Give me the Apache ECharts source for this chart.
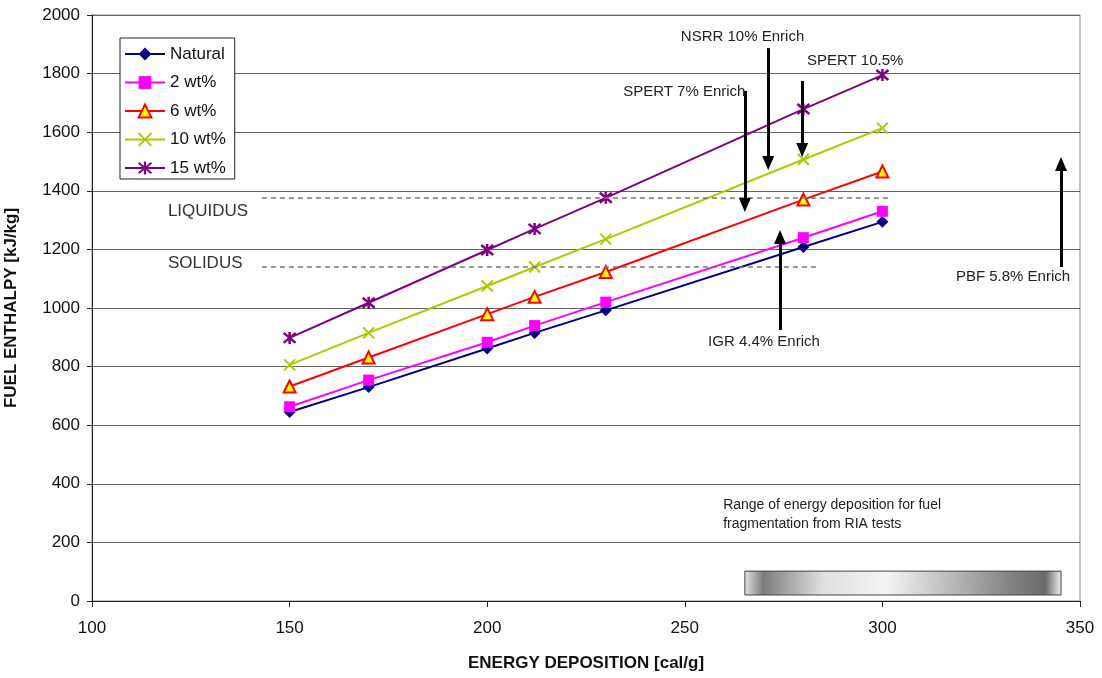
<!DOCTYPE html>
<html>
<head>
<meta charset="utf-8">
<script src="https://cdn.jsdelivr.net/npm/echarts@6/dist/echarts.min.js"></script>
<style>
html,body{margin:0;padding:0;background:#fff;}
#chart{width:1102px;height:678px;}
</style>
</head>
<body>
<div id="chart"></div>
<script>
// ---- data ----
var energy = [150, 170, 200, 212, 230, 280, 300];
var seriesNames = ['Natural', '2 wt%', '6 wt%', '10 wt%', '15 wt%'];
var natural = [645, 730, 862, 915, 992, 1208, 1294];
var wt2 = [663, 754, 883, 940, 1020, 1240, 1330];
var wt6 = [732, 831, 979, 1038, 1123, 1370, 1466];
var wt10 = [806, 915, 1075, 1140, 1235, 1507, 1614];
var wt15 = [898, 1018, 1198, 1270, 1376, 1679, 1795];

var liquidus = 1375;
var liquidusRange = [143, 302];
var solidus = 1142;
var solidusRange = [143, 284];

// arrows: [label, x, yStart, yTip]
var arrows = [
  ['NSRR 10% Enrich', 271.1, 1887, 1471],
  ['SPERT 10.5%', 279.7, 1775, 1515],
  ['SPERT 7% Enrich', 265.2, 1741, 1328],
  ['IGR 4.4% Enrich', 274.1, 925, 1266],
  ['PBF 5.8% Enrich', 345.2, 1140, 1515]
];
// annotation texts: [text, x, y]
var notes = [
  ['NSRR 10% Enrich', 249.0, 1925],
  ['SPERT 10.5%', 280.9, 1843],
  ['SPERT 7% Enrich', 234.4, 1737],
  ['IGR 4.4% Enrich', 255.9, 884],
  ['PBF 5.8% Enrich', 318.6, 1106]
];
var phaseLabels = [['LIQUIDUS', 119.2, 1331], ['SOLIDUS', 119.2, 1154]];
var rangeText = 'Range of energy deposition for fuel\nfragmentation from RIA tests';
var rangeTextPos = [259.7, 295];
var fragRange = [265.2, 345.2];
var fragBand = [20.5, 102];

var xTicks = {min: 100, max: 350, interval: 50};
var yTicks = {min: 0, max: 2000, interval: 200};

function pairs(ys) { return energy.map(function (x, i) { return [x, ys[i]]; }); }

var FONT = '"Liberation Sans", Arial, sans-serif';
var headLen = 14; // px
var yPerPx = (yTicks.max - yTicks.min) / 586;

var arrowLines = arrows.map(function (a) {
  var dir = a[3] > a[2] ? 1 : -1;
  var end = a[3] - dir * (headLen / 2) * yPerPx;
  return [{coord: [a[1], a[2]], symbol: 'none'}, {coord: [a[1], end], symbol: 'triangle'}];
});

var noteMarks = notes.map(function (n) {
  return {coord: [n[1], n[2]], value: n[0], label: {formatter: n[0], fontSize: 15}};
}).concat(phaseLabels.map(function (p) {
  return {coord: [p[1], p[2]], value: p[0], label: {formatter: p[0], fontSize: 17, color: '#333'}};
})).concat([{coord: rangeTextPos, value: 0, label: {formatter: rangeText, fontSize: 14, lineHeight: 19}}]);

var chart = echarts.init(document.getElementById('chart'), null, {renderer: 'canvas'});

var plain = function (v) { return String(v); };
var lineW = 2;
var option = {
  backgroundColor: '#fff',
  animation: false,
  grid: {left: 92, right: 22, top: 15, bottom: 77, show: true, borderColor: '#888', borderWidth: 1,
         containLabel: false, outerBoundsMode: 'none'},
  legend: {
    data: seriesNames,
    orient: 'vertical',
    left: 120, top: 38,
    itemWidth: 40, itemHeight: 16, itemGap: 10.5,
    padding: [7, 9, 2, 4],
    borderColor: '#222', borderWidth: 1, backgroundColor: '#fff',
    textStyle: {fontSize: 17, fontFamily: FONT, color: '#111', lineHeight: 18},
    z: 10
  },
  xAxis: {
    type: 'value', min: xTicks.min, max: xTicks.max, interval: xTicks.interval,
    name: 'ENERGY DEPOSITION [cal/g]', nameLocation: 'middle', nameGap: 54,
    nameTextStyle: {fontSize: 17, fontWeight: 'bold', fontFamily: FONT, color: '#111'},
    axisLine: {lineStyle: {color: '#222', width: 1}},
    axisTick: {show: true, length: 6, lineStyle: {color: '#222'}},
    axisLabel: {fontSize: 17, fontFamily: FONT, color: '#111', margin: 19, formatter: plain},
    splitLine: {show: false}
  },
  yAxis: {
    type: 'value', min: yTicks.min, max: yTicks.max, interval: yTicks.interval,
    name: 'FUEL ENTHALPY [kJ/kg]', nameLocation: 'middle', nameGap: 72,
    nameTextStyle: {fontSize: 17, fontWeight: 'bold', fontFamily: FONT, color: '#111'},
    axisLine: {show: true, lineStyle: {color: '#222', width: 1}},
    axisTick: {show: true, length: 5, lineStyle: {color: '#222'}},
    axisLabel: {fontSize: 17, fontFamily: FONT, color: '#111', margin: 12, formatter: plain},
    splitLine: {show: true, lineStyle: {color: '#666', width: 1}}
  },
  series: [
    {
      name: 'Natural', type: 'line', data: pairs(natural),
      symbol: 'diamond', symbolSize: 12,
      lineStyle: {color: '#000080', width: lineW},
      itemStyle: {color: '#000080'}
    },
    {
      name: '2 wt%', type: 'line', data: pairs(wt2),
      symbol: 'rect', symbolSize: 11,
      lineStyle: {color: '#FF00FF', width: lineW},
      itemStyle: {color: '#FF00FF'}
    },
    {
      name: '6 wt%', type: 'line', data: pairs(wt6),
      symbol: 'triangle', symbolSize: 12,
      lineStyle: {color: '#FF0000', width: lineW},
      itemStyle: {color: '#FFFF00', borderColor: '#FF0000', borderWidth: 2}
    },
    {
      name: '10 wt%', type: 'line', data: pairs(wt10),
      symbol: 'path://M0,0L10,10M10,0L0,10', symbolSize: 11,
      lineStyle: {color: '#A8CC00', width: lineW},
      itemStyle: {color: '#A8CC00', borderColor: '#A8CC00', borderWidth: 2}
    },
    {
      name: '15 wt%', type: 'line', data: pairs(wt15),
      symbol: 'path://M0,0L10,10M10,0L0,10M5,-1L5,11', symbolSize: 12,
      lineStyle: {color: '#800080', width: lineW},
      itemStyle: {color: '#800080', borderColor: '#800080', borderWidth: 2.5}
    },
    {
      name: 'phase', type: 'line', data: [], silent: true,
      markLine: {
        silent: true, symbol: ['none', 'none'], label: {show: false},
        lineStyle: {color: '#777', type: [5, 4], width: 1.5},
        data: [
          [{coord: [liquidusRange[0], liquidus]}, {coord: [liquidusRange[1], liquidus]}],
          [{coord: [solidusRange[0], solidus]}, {coord: [solidusRange[1], solidus]}]
        ]
      },
      markArea: {
        silent: true,
        itemStyle: {
          color: {type: 'linear', x: 0, y: 0, x2: 1, y2: 0.4, colorStops: [
            {offset: 0, color: '#e6e6e6'},
            {offset: 0.06, color: '#7c7c7c'},
            {offset: 0.25, color: '#e0e0e0'},
            {offset: 0.45, color: '#f4f4f4'},
            {offset: 0.85, color: '#808080'},
            {offset: 0.95, color: '#6a6a6a'},
            {offset: 1, color: '#f2f2f2'}
          ]},
          borderColor: '#444', borderWidth: 1
        },
        data: [[{coord: [fragRange[0], fragBand[1]]}, {coord: [fragRange[1], fragBand[0]]}]]
      }
    },
    {
      name: 'arrows', type: 'line', data: [], silent: true, z: 5,
      markLine: {
        silent: true, symbolSize: [12, headLen], label: {show: false},
        lineStyle: {color: '#000', type: 'solid', width: 3},
        itemStyle: {color: '#000'},
        data: arrowLines
      },
      markPoint: {
        silent: true, symbol: 'circle', symbolSize: 0,
        itemStyle: {color: 'transparent'},
        label: {show: true, position: 'right', distance: 0, color: '#222', fontFamily: FONT},
        data: noteMarks
      }
    }
  ]
};
chart.setOption(option);
</script>
</body>
</html>
